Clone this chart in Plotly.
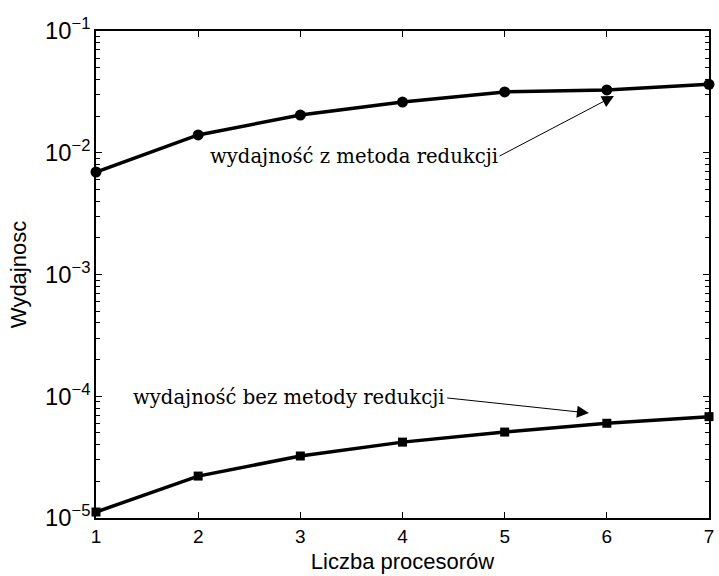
import plotly.graph_objects as go

# Number of processors
procs = [1, 2, 3, 4, 5, 6, 7]
# Efficiency with the reduction method
eff_with_reduction = [0.00695, 0.0140, 0.0204, 0.0261, 0.0316, 0.0328, 0.0365]
# Efficiency without the reduction method
eff_without_reduction = [1.12e-5, 2.21e-5, 3.23e-5, 4.20e-5, 5.08e-5, 6.00e-5, 6.80e-5]

label_with = "wydajność z metoda redukcji"
label_without = "wydajność bez metody redukcji"

fig = go.Figure()
fig.add_trace(go.Scatter(
    x=procs, y=eff_with_reduction, mode="lines+markers",
    line=dict(color="black", width=3.5),
    marker=dict(symbol="circle", size=11, color="black"),
    showlegend=False, cliponaxis=False,
))
fig.add_trace(go.Scatter(
    x=procs, y=eff_without_reduction, mode="lines+markers",
    line=dict(color="black", width=3.5),
    marker=dict(symbol="square", size=9, color="black"),
    showlegend=False, cliponaxis=False,
))

serif = dict(family="DejaVu Serif", size=19.6, color="black")
arrow_style = dict(showarrow=True, arrowhead=2, arrowsize=2.4,
                   arrowwidth=1, arrowcolor="black")
fig.add_annotation(
    x=6.07, y=-1.534, ax=4.95, ay=-2.027, axref="x", ayref="y",
    xref="x", yref="y", text=label_with, font=serif,
    xanchor="right", **arrow_style,
)
fig.add_annotation(
    x=5.825, y=-4.138, ax=4.437, ay=-4.014, axref="x", ayref="y",
    xref="x", yref="y", text=label_without, font=serif,
    xanchor="right", **arrow_style,
)

axis_font = dict(family="Liberation Sans", size=19, color="black")
title_font = dict(family="Liberation Sans", size=22, color="black")
fig.update_xaxes(
    range=[1, 7], tickvals=procs, ticks="inside", ticklen=6, tickwidth=1,
    tickcolor="black", showline=True, linecolor="black", linewidth=1.5,
    mirror="ticks", showgrid=False, zeroline=False, tickfont=axis_font,
    title=dict(text="Liczba procesorów", font=title_font, standoff=8),
)
fig.update_yaxes(
    type="log", range=[-5, -1], dtick=1, exponentformat="power",
    ticks="inside", ticklen=6, tickwidth=1, tickcolor="black",
    minor=dict(ticks="inside", ticklen=4, tickwidth=1, tickcolor="black", showgrid=False),
    showline=True, linecolor="black", linewidth=1.5, mirror="ticks",
    showgrid=False, zeroline=False, tickfont=axis_font,
    title=dict(text="Wydajnosc", font=title_font, standoff=12),
)
fig.update_layout(
    width=719, height=576, plot_bgcolor="white", paper_bgcolor="white",
    margin=dict(l=96, r=5, t=31, b=58),
)
fig.write_html("out.html")
